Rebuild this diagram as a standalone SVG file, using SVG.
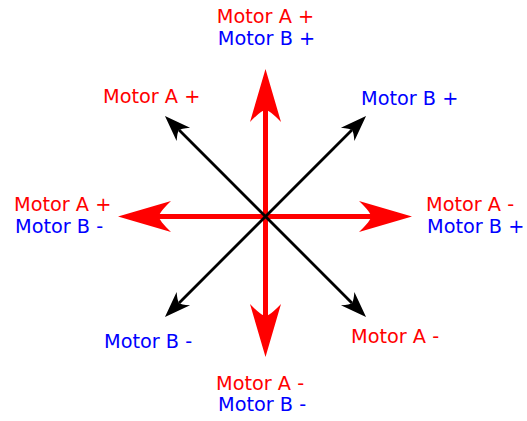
<svg xmlns="http://www.w3.org/2000/svg" width="527" height="421" viewBox="0 0 527 421">
<defs>
<style>
text{font-family:"DejaVu Sans","Liberation Sans",sans-serif;font-size:19.3px}
.a{fill:#ff0000}
.b{fill:#0000ff}
.red{stroke:#ff0000;stroke-width:5;fill:none}
.blk{stroke:#000000;stroke-width:2.8;fill:none}
</style>
<marker id="mr" markerUnits="userSpaceOnUse" orient="auto-start-reverse" overflow="visible" refX="0" refY="0" markerWidth="1" markerHeight="1">
<path d="M41 0 L-12 -15.5 Q0 -4 0 0 Q0 4 -12 15.5 Z" fill="#ff0000"/>
</marker>
<marker id="mk" markerUnits="userSpaceOnUse" orient="auto-start-reverse" overflow="visible" refX="0" refY="0" markerWidth="1" markerHeight="1">
<path d="M20 0 L-6 -9.5 Q0 -2.5 0 0 Q0 2.5 -6 9.5 Z" fill="#000000"/>
</marker>
</defs>
<rect width="527" height="421" fill="#ffffff"/>
<g id="connectors">
<line class="red" x1="265.5" y1="110" x2="265.5" y2="316" marker-start="url(#mr)" marker-end="url(#mr)"/>
<line class="red" x1="159" y1="216.5" x2="371" y2="216.5" marker-start="url(#mr)" marker-end="url(#mr)"/>
<line class="blk" x1="179.1" y1="302.9" x2="351.9" y2="130.1" marker-start="url(#mk)" marker-end="url(#mk)"/>
<line class="blk" x1="179.1" y1="130.1" x2="351.9" y2="302.9" marker-start="url(#mk)" marker-end="url(#mk)"/>
</g>
<g id="label-top">
<text class="a" x="265.5" y="23" text-anchor="middle">Motor A +</text>
<text class="b" x="266.5" y="45" text-anchor="middle">Motor B +</text>
</g>
<g id="label-upper-left">
<text class="a" x="103" y="103">Motor A +</text>
</g>
<g id="label-upper-right">
<text class="b" x="361" y="105">Motor B +</text>
</g>
<g id="label-left">
<text class="a" x="14" y="211">Motor A +</text>
<text class="b" x="15" y="233">Motor B -</text>
</g>
<g id="label-right">
<text class="a" x="426" y="211">Motor A -</text>
<text class="b" x="427" y="233">Motor B +</text>
</g>
<g id="label-lower-left">
<text class="b" x="104" y="348">Motor B -</text>
</g>
<g id="label-lower-right">
<text class="a" x="351" y="343">Motor A -</text>
</g>
<g id="label-bottom">
<text class="a" x="216" y="390">Motor A -</text>
<text class="b" x="218" y="411">Motor B -</text>
</g>
</svg>
